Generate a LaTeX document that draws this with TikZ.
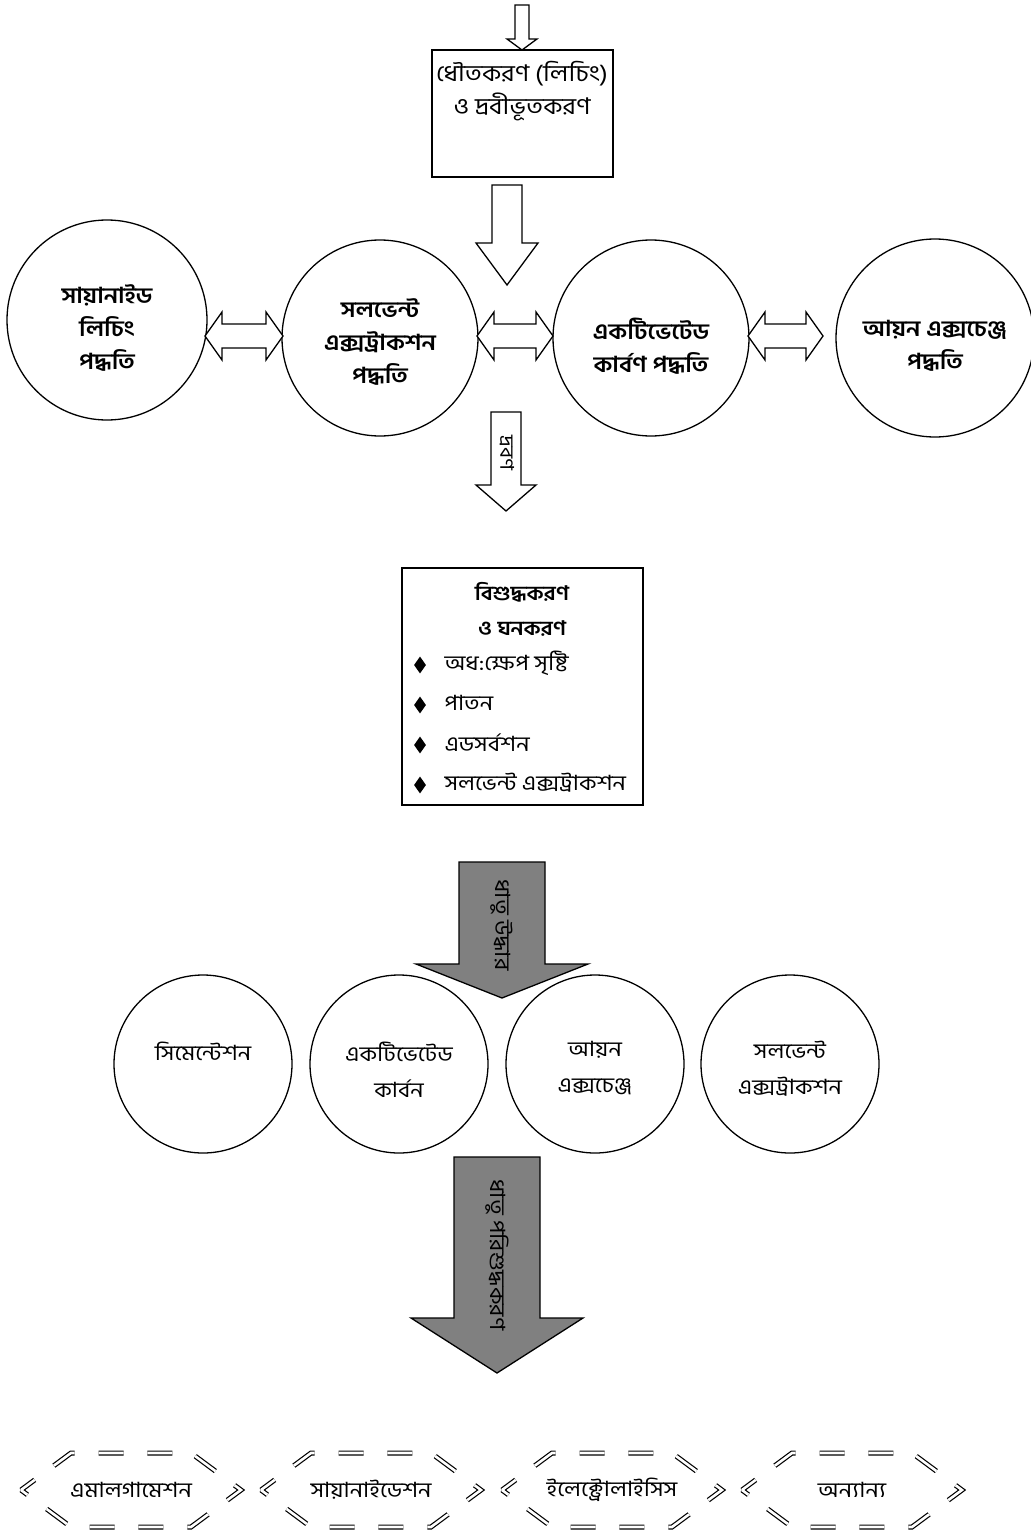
\documentclass[tikz,border=0pt]{standalone}
\usepackage{fontspec}
\setmainfont[Script=Bengali, FakeStretch=1.12]{Hind Siliguri}
\usetikzlibrary{calc,shapes.geometric}
\newcommand\blockdown[7]{%
  \draw[#1] ({#2-#4},#3) -- ({#2+#4},#3) -- ({#2+#4},#5) -- ({#2+#6},#5) -- (#2,#7) -- ({#2-#6},#5) -- ({#2-#4},#5) -- cycle;}
\newcommand\blockboth[6]{%
  \draw[hollow] (#1,#3) -- ({#1+#6},{#3-#5}) -- ({#1+#6},{#3-#4}) -- ({#2-#6},{#3-#4}) -- ({#2-#6},{#3-#5}) -- (#2,#3) -- ({#2-#6},{#3+#5}) -- ({#2-#6},{#3+#4}) -- ({#1+#6},{#3+#4}) -- ({#1+#6},{#3+#5}) -- cycle;}
\newcommand\fs[2]{\fontsize{#1}{#2}\selectfont}
\begin{document}
\begin{tikzpicture}[x=1pt,y=-1pt,
  hollow/.style={draw=black, fill=white, line width=1.3pt, line join=miter},
  greyarrow/.style={draw=black, fill=gray, line width=1.3pt},
  circ/.style={draw, circle, line width=1.3pt, inner sep=0pt, align=center},
  boxnode/.style={draw, rectangle, line width=1.5pt, inner sep=0pt},
  hexline/.style={draw, line width=1.2pt, double, double distance=2.6pt, dash pattern=on 25pt off 23.88pt, dash phase=8pt},
  bullet/.style={diamond, fill=black, inner sep=0pt, minimum width=12pt, minimum height=17pt},
  bigtxt/.style={font=\fs{23}{33}, align=center},
  boldtxt/.style={font=\fs{22}{33}\bfseries, align=center},
  listtxt/.style={font=\fs{21}{24}, anchor=west},
  midtxt/.style={font=\fs{21}{36}, align=center},
]
\useasboundingbox (0,0) rectangle (1030,1530);
% top arrow and first box
\blockdown{hollow}{522}{5}{7}{39}{15}{50}
\node[boxnode, minimum width=181pt, minimum height=127pt] (b1) at (522.5,113.5) {};
\node[bigtxt] (b1t) at (522,91) {ধৌতকরণ (লিচিং)\\ও দ্রবীভূতকরণ};
\blockdown{hollow}{507}{185}{15}{243}{31}{285}
% first row of circles
\node[circ, minimum size=200pt] (c1) at (107,320) {};
\node[boldtxt] at ($(c1.center)+(0,8)$) {সায়ানাইড\\লিচিং\\পদ্ধতি};
\node[circ, minimum size=196pt] (c2) at (380,338) {};
\node[boldtxt] at ($(c2.center)+(0,4)$) {সলভেন্ট\\এক্সট্রাকশন\\পদ্ধতি};
\node[circ, minimum size=196pt] (c3) at (651,338) {};
\node[boldtxt] at ($(c3.center)+(0,8)$) {একটিভেটেড\\কার্বণ পদ্ধতি};
\node[circ, minimum size=198pt] (c4) at (935,338) {};
\node[boldtxt] at ($(c4.center)+(0,8)$) {আয়ন এক্সচেঞ্জ\\পদ্ধতি};
\blockboth{205}{283}{336}{12}{24}{17}
\blockboth{477}{553}{336}{12}{24}{17}
\blockboth{748}{823}{336}{12}{24}{17}
% solution arrow
\blockdown{hollow}{506}{412}{15}{485}{30}{511}
\node[rotate=-90, font=\fs{19}{19}] (sol) at (507,453) {দ্রবণ};
% purification box
\node[boxnode, minimum width=241pt, minimum height=237pt] (b2) at (522.5,686.5) {};
\node[boldtxt, font=\fs{20}{35}\bfseries] (b2t) at (522,609) {বিশুদ্ধকরণ\\ও ঘনকরণ};
\node[bullet] (d1) at (420,665) {};
\node[bullet] (d2) at (420,705) {};
\node[bullet] (d3) at (420,745) {};
\node[bullet] (d4) at (420,785) {};
\node[listtxt] at (441,663) {অধ:ক্ষেপ সৃষ্টি};
\node[listtxt] at (441,703) {পাতন};
\node[listtxt] at (441,743) {এডসর্বশন};
\node[listtxt] at (441,783) {সলভেন্ট এক্সট্রাকশন};
% recovery arrow
\blockdown{greyarrow}{502}{862}{43}{964}{86}{998}
\node[rotate=-90, font=\fs{21}{21}] (rec) at (502,925) {ধাতু উদ্ধার};
% second row of circles
\node[circ, minimum size=178pt] (e1) at (203,1064) {};
\node[circ, minimum size=178pt] (e2) at (399,1064) {};
\node[circ, minimum size=178pt] (e3) at (595,1064) {};
\node[circ, minimum size=178pt] (e4) at (790,1064) {};
\node[midtxt, anchor=north] at ($(e1.center)+(0,-26)$) {সিমেন্টেশন};
\node[midtxt, anchor=north] at ($(e2.center)+(0,-26)$) {একটিভেটেড\\কার্বন};
\node[midtxt, anchor=north] at ($(e3.center)+(0,-26)$) {আয়ন\\এক্সচেঞ্জ};
\node[midtxt, anchor=north] at ($(e4.center)+(0,-26)$) {সলভেন্ট\\এক্সট্রাকশন};
% refining arrow
\blockdown{greyarrow}{497}{1157}{43}{1318}{86}{1373}
\node[rotate=-90, font=\fs{21}{21}] (ref) at (497,1255) {ধাতু পরিশুদ্ধকরণ};
% bottom hexagons
\foreach \nm/\xx/\tx in {h1/131/এমালগামেশন, h2/371/সায়ানাইডেশন, h3/612/ইলেক্ট্রোলাইসিস, h4/852/অন্যান্য}{
  \node[font=\fs{21}{21}] (\nm) at (\xx,1490) {\tx};
  \draw[hexline] ($(\nm.center)+(-110,0)$) -- ++(50,-37) -- ++(120,0) -- ++(50,37) -- ++(-50,37) -- ++(-120,0) -- cycle;
}
\end{tikzpicture}
\end{document}
